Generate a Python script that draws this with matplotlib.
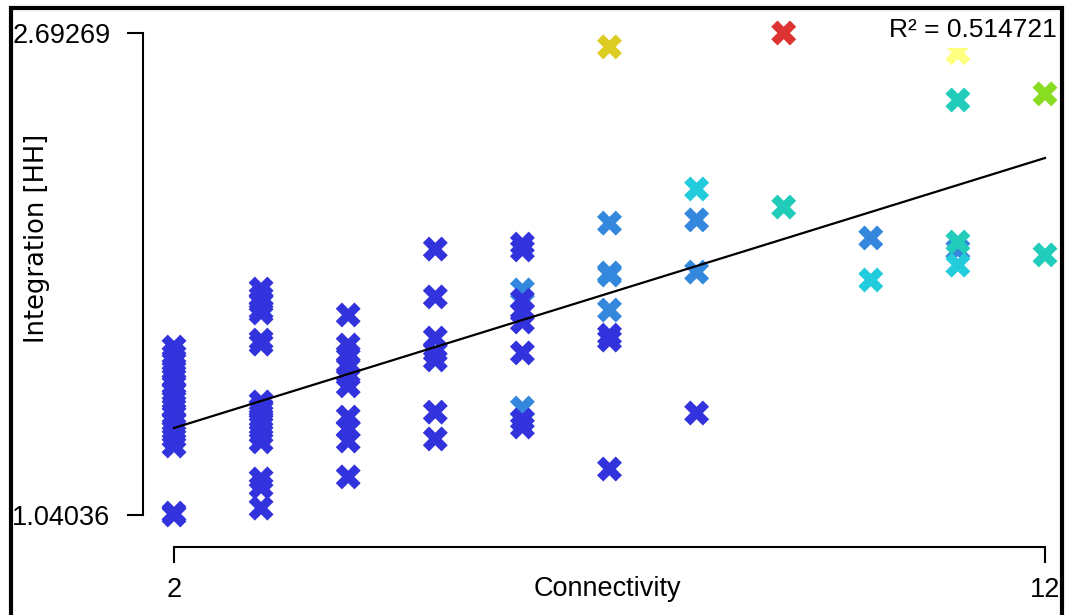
import numpy as np
import matplotlib.pyplot as plt
from matplotlib.colors import ListedColormap
from matplotlib.patches import Rectangle

# connectivity (x), integration [HH] (y), colour class of each point
connectivity = [2] * 16 + [3] * 17 + [4] * 10 + [5] * 7 + [6] * 10 + [7] * 8 + [8] * 4 + [9] * 2 + [10] * 2 + [11] * 5 + [12] * 2
integration = [
    # 2
    1.616, 1.589, 1.565, 1.537, 1.510, 1.486, 1.462, 1.435, 1.407, 1.383, 1.359, 1.332, 1.304, 1.277, 1.047, 1.0404,
    # 3
    1.815, 1.788, 1.767, 1.743, 1.733, 1.640, 1.626, 1.428, 1.407, 1.400, 1.373, 1.346, 1.318, 1.291, 1.164, 1.136, 1.064,
    # 4
    1.726, 1.623, 1.589, 1.552, 1.517, 1.483, 1.376, 1.336, 1.294, 1.171,
    # 5
    1.952, 1.788, 1.647, 1.599, 1.572, 1.393, 1.301,
    # 6
    1.812, 1.407, 1.969, 1.949, 1.777, 1.736, 1.702, 1.596, 1.366, 1.342,
    # 7
    2.645, 2.041, 1.870, 1.863, 1.743, 1.657, 1.640, 1.198,
    # 8
    2.158, 2.052, 1.873, 1.390,
    # 9
    2.6927, 2.096,
    # 10
    1.990, 1.846,
    # 11
    2.625, 2.463, 1.949, 1.897, 1.976,
    # 12
    2.484, 1.932,
]
shade = (
    [0] * 16
    + [0] * 17
    + [0] * 10
    + [0] * 7
    + [1, 1, 0, 0, 0, 0, 0, 0, 0, 0]
    + [5, 1, 1, 1, 1, 0, 0, 0]
    + [2, 1, 1, 0]
    + [7, 3]
    + [1, 2]
    + [6, 3, 1, 2, 3]
    + [4, 3]
)
palette = ['#3333dd', '#3388dd', '#22ccdd', '#22ccbb', '#88dd22', '#ddcc22', '#ffff80', '#dd3333']

y_ticks = [1.04036, 2.69269]
x_ticks = [2, 12]
fit_intercept = 1.1535
fit_slope = 0.09256
r_squared = 0.514721

W, H = 1066, 615
sans = ['Liberation Sans', 'DejaVu Sans']

fig = plt.figure(figsize=(W / 100, H / 100), dpi=100)
ax = fig.add_axes([143 / W, (H - 547) / H, (1060 - 143) / W, (547 - 10) / H])

# pixel scale
xpx = (1045 - 174) / (x_ticks[1] - x_ticks[0])
ypx = (515 - 33) / (y_ticks[1] - y_ticks[0])
ax.set_xlim(x_ticks[0] - 31 / xpx, x_ticks[1] + 15 / xpx)
ax.set_ylim(y_ticks[0] - 32 / ypx, y_ticks[1] + 23 / ypx)

cmap = ListedColormap(palette)
ax.scatter(connectivity, integration, c=shade, cmap=cmap, vmin=-0.5, vmax=len(palette) - 0.5,
           marker='X', s=18 ** 2, linewidths=0, zorder=2)

xs = np.array(x_ticks, dtype=float)
ax.plot(xs, fit_intercept + fit_slope * xs, color='black', lw=1.6, zorder=3)

for side in ['top', 'right']:
    ax.spines[side].set_visible(False)
ax.spines['left'].set_bounds(y_ticks[0], y_ticks[1])
ax.spines['bottom'].set_bounds(x_ticks[0], x_ticks[1])
ax.spines['left'].set_linewidth(1.5)
ax.spines['bottom'].set_linewidth(1.5)

ax.set_xticks(x_ticks)
ax.set_xticklabels([str(t) for t in x_ticks])
ax.set_yticks(y_ticks)
ax.set_yticklabels(['%.5f' % t for t in y_ticks])
ax.tick_params(axis='both', length=11.5, width=1.5, labelsize=19.5)
ax.tick_params(axis='y', pad=12)
ax.tick_params(axis='x', pad=10)
for lab in ax.get_xticklabels() + ax.get_yticklabels():
    lab.set_family(sans)

ax.set_xlabel('Connectivity', fontsize=19.5, family=sans)
ax.xaxis.set_label_coords((607 - 143) / 917, -(576 - 547) / 537)
ax.set_ylabel('Integration [HH]', fontsize=18.5, family='DejaVu Sans')
ax.yaxis.set_label_coords((50 - 143) / 917, (547 - 238) / 537)

fig.text(1057 / W, 1 - 30 / H, 'R² = %.6f' % r_squared, ha='right', va='center',
         fontsize=19, family=sans,
         bbox=dict(facecolor='white', edgecolor='none', pad=4.5))

# frame around the picture
fig.add_artist(Rectangle((10.5 / W, -0.1), (1062 - 10.5) / W, 1.1 - 8 / H,
                         transform=fig.transFigure, fill=False, edgecolor='black', lw=3,
                         zorder=10))

fig.savefig('out.png', dpi=100)
